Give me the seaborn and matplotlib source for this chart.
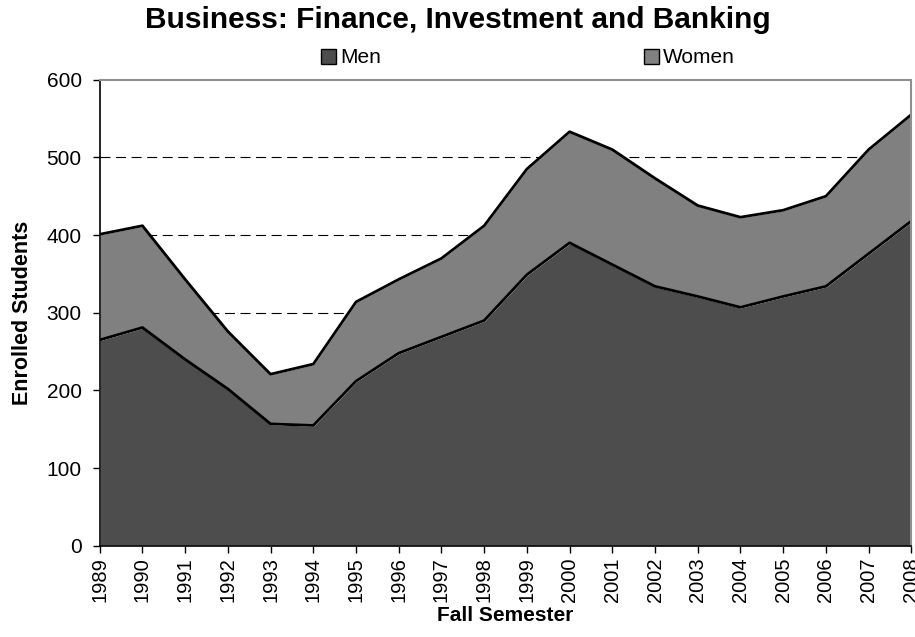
import numpy as np
import pandas as pd
import matplotlib
matplotlib.use("Agg")
import matplotlib.pyplot as plt
import seaborn as sns
from matplotlib.patches import Patch

# Enrollment data
years = list(range(1989, 2009))
men = [265, 281, 240, 202, 157, 155, 212, 248, 269, 290,
       349, 390, 362, 334, 321, 307, 321, 334, 376, 418]
women = [136, 131, 103, 74, 64, 79, 102, 95, 101, 122,
         136, 143, 148, 139, 117, 116, 111, 116, 134, 137]

df = pd.DataFrame({"year": years, "Men": men, "Women": women})
df["Total"] = df["Men"] + df["Women"]

sns.set_theme(style="white")
plt.rcParams["font.family"] = ["Liberation Sans", "DejaVu Sans"]
plt.rcParams["text.color"] = "black"
plt.rcParams["axes.labelcolor"] = "black"
plt.rcParams["xtick.color"] = "black"
plt.rcParams["ytick.color"] = "black"

men_color = "#4d4d4d"
women_color = "#808080"

fig = plt.figure(figsize=(9.15, 6.37), dpi=100)
ax = fig.add_axes([0.109, 0.143, 0.887, 0.732])

# dashed grid behind the areas
for v in [100, 200, 300, 400, 500]:
    ax.axhline(v, color="black", linestyle=(0, (9, 5)), linewidth=0.8, zorder=0)

ax.stackplot(df["year"], df["Men"], df["Women"],
             colors=[men_color, women_color], zorder=1)
sns.lineplot(data=df, x="year", y="Men", color="black", linewidth=2, ax=ax, zorder=2)
sns.lineplot(data=df, x="year", y="Total", color="black", linewidth=2, ax=ax, zorder=2)

ax.set_xlim(1989, 2008)
ax.set_ylim(0, 600)
ax.set_yticks(range(0, 601, 100))
ax.set_xticks(years)
ax.set_xticklabels([str(y) for y in years], rotation=90)
ax.tick_params(axis="both", length=5, width=1, color="black",
               direction="out", bottom=True, left=True)
ax.tick_params(axis="y", labelsize=15, pad=8)
ax.tick_params(axis="x", labelsize=14.5, pad=3)

for side in ["top", "right"]:
    ax.spines[side].set_color("#909090")
    ax.spines[side].set_linewidth(1.5)
for side in ["left", "bottom"]:
    ax.spines[side].set_color("black")
    ax.spines[side].set_linewidth(1.2)

ax.set_xlabel("Fall Semester", fontsize=15, fontweight="bold", labelpad=3)
ax.set_ylabel("Enrolled Students", fontsize=15.5, fontweight="bold", labelpad=10)

fig.suptitle("Business: Finance, Investment and Banking", fontsize=21.5,
             fontweight="bold", y=0.99)

handles = [Patch(facecolor=men_color, edgecolor="black", label="Men"),
           Patch(facecolor=women_color, edgecolor="black", label="Women")]
fig.legend(handles=handles, loc="center", bbox_to_anchor=(0.577, 0.909), ncol=2,
           frameon=False, fontsize=15, handlelength=0.72, handleheight=0.72,
           handletextpad=0.2, columnspacing=12.6, borderpad=0)

fig.savefig("out.png", dpi=100)
